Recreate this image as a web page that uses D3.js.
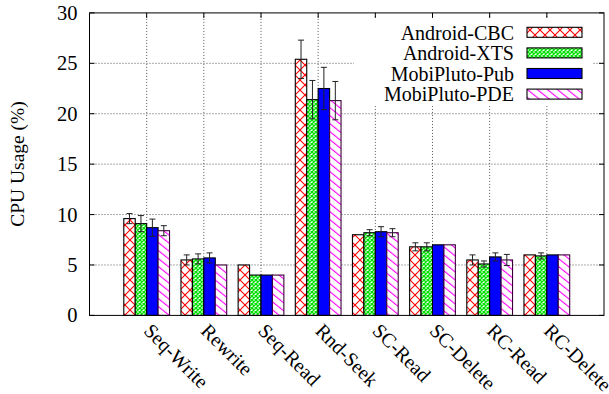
<!DOCTYPE html>
<html>
<head>
<meta charset="utf-8">
<script src="https://cdn.jsdelivr.net/npm/d3@7"></script>
<style>
  html, body { margin: 0; padding: 0; background: #fff; }
  svg { display: block; }
  text { font-family: "Liberation Serif", "Times New Roman", serif; fill: #000; }
</style>
</head>
<body>
<div id="chart"></div>
<script>
// Benchmark categories and per-system CPU usage (%), with error half-widths
const categories = ["Seq-Write", "Rewrite", "Seq-Read", "Rnd-Seek", "SC-Read", "SC-Delete", "RC-Read", "RC-Delete"];
const seriesNames = ["Android-CBC", "Android-XTS", "MobiPluto-Pub", "MobiPluto-PDE"];
const cbcValues = [9.6, 5.5, 5.0, 25.4, 8.0, 6.8, 5.5, 6.0];
const cbcErrors = [0.5, 0.5, 0, 1.9, 0, 0.4, 0.5, 0];
const xtsValues = [9.1, 5.6, 4.0, 21.4, 8.2, 6.8, 5.1, 5.9];
const xtsErrors = [0.8, 0.5, 0, 1.9, 0.3, 0.4, 0.3, 0.3];
const pubValues = [8.7, 5.7, 4.0, 22.5, 8.3, 7.0, 5.8, 6.0];
const pubErrors = [0.85, 0.5, 0, 2.1, 0.5, 0, 0.4, 0];
const pdeValues = [8.4, 5.0, 4.0, 21.3, 8.2, 7.0, 5.5, 6.0];
const pdeErrors = [0.5, 0, 0, 1.9, 0.4, 0, 0.55, 0];
const yTicks = [0, 5, 10, 15, 20, 25, 30];

const series = [
  { name: seriesNames[0], values: cbcValues, errors: cbcErrors, fill: "url(#pat-cross)" },
  { name: seriesNames[1], values: xtsValues, errors: xtsErrors, fill: "url(#pat-dense)" },
  { name: seriesNames[2], values: pubValues, errors: pubErrors, fill: "#0000ff" },
  { name: seriesNames[3], values: pdeValues, errors: pdeErrors, fill: "url(#pat-diag)" }
];

const W = 609, H = 394;
const plot = { left: 89.5, right: 604, top: 12.9, bottom: 315.4 };

const svg = d3.select("#chart").append("svg")
  .attr("width", W).attr("height", H);

// Fill patterns
const defs = svg.append("defs");
const cross = defs.append("pattern").attr("id", "pat-cross")
  .attr("patternUnits", "userSpaceOnUse").attr("width", 10).attr("height", 10);
cross.append("rect").attr("width", 10).attr("height", 10).attr("fill", "#fff");
cross.append("path").attr("d", "M0,0L10,10M0,10L10,0")
  .attr("stroke", "#ff0000").attr("stroke-width", 1.1).attr("fill", "none");

const dense = defs.append("pattern").attr("id", "pat-dense")
  .attr("patternUnits", "userSpaceOnUse").attr("width", 4).attr("height", 4);
dense.append("rect").attr("width", 4).attr("height", 4).attr("fill", "#fff");
dense.append("path").attr("d", "M0,0L4,4M0,4L4,0")
  .attr("stroke", "#00e000").attr("stroke-width", 1.4).attr("fill", "none");

const diag = defs.append("pattern").attr("id", "pat-diag")
  .attr("patternUnits", "userSpaceOnUse").attr("width", 20).attr("height", 6.25)
  .attr("patternTransform", "rotate(38.66)");
diag.append("rect").attr("width", 20).attr("height", 6.25).attr("fill", "#fff");
diag.append("line").attr("x1", 0).attr("x2", 20).attr("y1", 3).attr("y2", 3)
  .attr("stroke", "#ff00ff").attr("stroke-width", 1.1);

const x = d3.scaleLinear().domain([-1, 8]).range([plot.left, plot.right]);
const y = d3.scaleLinear().domain([0, 30]).range([plot.bottom, plot.top]);
const boxW = 0.2;

// Grid lines (dotted)
const grid = svg.append("g").attr("stroke", "#555").attr("stroke-width", 1)
  .attr("stroke-dasharray", "1,2");
grid.selectAll("line.h").data(yTicks.filter(t => t > 0 && t < 30)).join("line")
  .attr("class", "h")
  .attr("x1", plot.left).attr("x2", plot.right)
  .attr("y1", d => y(d)).attr("y2", d => y(d));
grid.selectAll("line.v").data(categories).join("line")
  .attr("class", "v")
  .attr("x1", (d, i) => x(i)).attr("x2", (d, i) => x(i))
  .attr("y1", plot.top).attr("y2", plot.bottom);

// Bars
const barsG = svg.append("g");
series.forEach((s, si) => {
  const g = barsG.append("g");
  g.selectAll("rect").data(s.values).join("rect")
    .attr("x", (d, i) => x(i + (si - 2) * boxW))
    .attr("width", x(boxW) - x(0))
    .attr("y", d => y(d))
    .attr("height", d => y(0) - y(d))
    .attr("fill", s.fill)
    .attr("stroke", si === 3 ? "#3a003a" : "#000")
    .attr("stroke-width", 1.1);
});

// Error bars
const errG = svg.append("g").attr("stroke", "#222").attr("stroke-width", 1);
series.forEach((s, si) => {
  s.values.forEach((v, i) => {
    const e = s.errors[i];
    if (!e) return;
    const cx = x(i + (si - 1.5) * boxW);
    errG.append("line").attr("x1", cx).attr("x2", cx).attr("y1", y(v - e)).attr("y2", y(v + e));
    errG.append("line").attr("x1", cx - 3).attr("x2", cx + 3).attr("y1", y(v - e)).attr("y2", y(v - e));
    errG.append("line").attr("x1", cx - 3).attr("x2", cx + 3).attr("y1", y(v + e)).attr("y2", y(v + e));
  });
});

// Legend with opaque background
const legend = svg.append("g");
legend.append("rect").attr("x", 354).attr("y", 17).attr("width", 238).attr("height", 89)
  .attr("fill", "#fff");
series.forEach((s, si) => {
  const cy = 32.3 + si * 20.6;
  legend.append("text").attr("x", 514).attr("y", cy + 7.2)
    .attr("text-anchor", "end").attr("font-size", 20).text(s.name);
  legend.append("rect").attr("x", 527).attr("y", cy - 5).attr("width", 55).attr("height", 10)
    .attr("fill", s.fill).attr("stroke", "#000").attr("stroke-width", 1.1);
});

// Frame and tick marks
const axes = svg.append("g").attr("stroke", "#000").attr("stroke-width", 1);
axes.append("rect").attr("x", plot.left).attr("y", plot.top)
  .attr("width", plot.right - plot.left).attr("height", plot.bottom - plot.top)
  .attr("fill", "none");
yTicks.forEach(t => {
  axes.append("line").attr("x1", plot.left).attr("x2", plot.left + 5).attr("y1", y(t)).attr("y2", y(t));
  axes.append("line").attr("x1", plot.right - 5).attr("x2", plot.right).attr("y1", y(t)).attr("y2", y(t));
});
categories.forEach((c, i) => {
  axes.append("line").attr("x1", x(i)).attr("x2", x(i)).attr("y1", plot.bottom - 5).attr("y2", plot.bottom);
  axes.append("line").attr("x1", x(i)).attr("x2", x(i)).attr("y1", plot.top).attr("y2", plot.top + 5);
});

// Y tick labels
const yAxis = d3.axisLeft(y).tickValues(yTicks).tickSize(0).tickPadding(12);
const ya = svg.append("g").attr("transform", `translate(${plot.left},0)`).call(yAxis);
ya.select(".domain").remove();
ya.selectAll("text").attr("font-size", 20.5)
  .attr("font-family", "Liberation Serif, Times New Roman, serif").attr("fill", "#000");

// X tick labels, rotated
svg.append("g").selectAll("text").data(categories).join("text")
  .attr("transform", (d, i) => `translate(${x(i) - 4},332) rotate(45)`)
  .attr("font-size", 20).text(d => d);

// Y axis title
svg.append("text")
  .attr("transform", `translate(24,164) rotate(-90)`)
  .attr("text-anchor", "middle").attr("font-size", 19.5)
  .text("CPU Usage (%)");
</script>
</body>
</html>
